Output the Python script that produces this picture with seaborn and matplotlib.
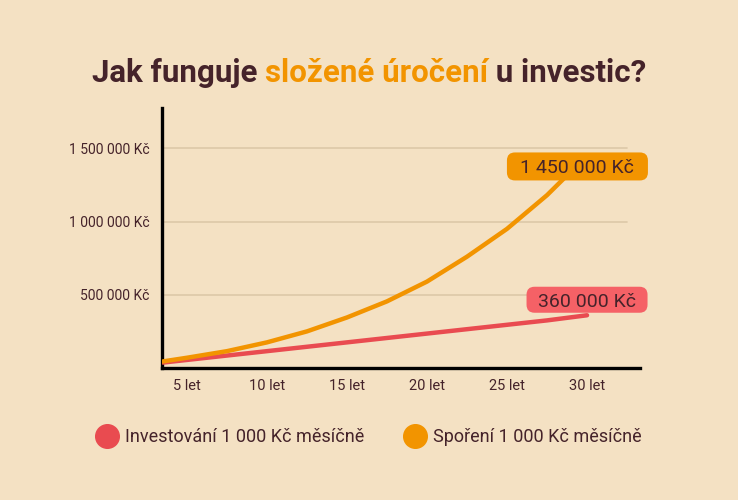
import matplotlib
matplotlib.use("Agg")
import matplotlib.pyplot as plt
from matplotlib.lines import Line2D
from matplotlib.patches import FancyBboxPatch
from matplotlib.transforms import IdentityTransform
from matplotlib.ticker import FuncFormatter
import seaborn as sns
import pandas as pd

# data (values in Kč)
years = [3.5, 5, 7.5, 10, 12.5, 15, 17.5, 20, 22.5, 25, 27.5, 30]
sporeni = [45000, 70000, 115000, 175000, 250000, 345000, 455000, 590000, 760000, 950000, 1180000, 1450000]
investovani = [37000, 55000, 85000, 115000, 145000, 175000, 205000, 235000, 265000, 295000, 325000, 360000]
series_names = ["Investování 1 000 Kč měsíčně", "Spoření 1 000 Kč měsíčně"]
x_ticks = [5, 10, 15, 20, 25, 30]
x_labels = ["5 let", "10 let", "15 let", "20 let", "25 let", "30 let"]
y_ticks = [500000, 1000000, 1500000]

BG = "#F4E1C3"
DARK = "#45232A"
RED = "#E94B50"
RED_BOX = "#F56166"
ORANGE = "#F29400"
GRID = "#DCC8A8"

df = pd.concat([
    pd.DataFrame({"rok": years, "castka": investovani, "serie": series_names[0]}),
    pd.DataFrame({"rok": years, "castka": sporeni, "serie": series_names[1]}),
])
palette = {series_names[0]: RED, series_names[1]: ORANGE}

sns.set_style("white")
plt.rcParams["font.family"] = ["Roboto", "DejaVu Sans"]

fig = plt.figure(figsize=(7.38, 5), dpi=100, facecolor=BG)
ax = fig.add_axes([0.2195, 0.264, 0.6475, 0.52])
ax.set_facecolor(BG)

sns.lineplot(data=df, x="rok", y="castka", hue="serie", palette=palette,
             linewidth=3.2, ax=ax, legend=False, zorder=3)

ax.set_xlim(3.44, 33.3)
ax.set_ylim(0, 1775000)

# gridlines stop a little short of the axis end
for v in y_ticks:
    ax.axhline(v, xmin=0, xmax=0.973, color=GRID, lw=1.2, zorder=1)

ax.set_xticks(x_ticks)
ax.set_xticklabels(x_labels)
ax.set_yticks(y_ticks)
ax.yaxis.set_major_formatter(FuncFormatter(lambda v, p: f"{v:,.0f}".replace(",", " ") + " Kč"))
ax.tick_params(axis="both", length=0, colors=DARK)
ax.tick_params(axis="x", labelsize=10.5, pad=8)
ax.tick_params(axis="y", labelsize=10, pad=9)
ax.set_xlabel("")
ax.set_ylabel("")

for s in ["top", "right"]:
    ax.spines[s].set_visible(False)
for s in ["left", "bottom"]:
    ax.spines[s].set_color("black")
    ax.spines[s].set_linewidth(2.4)


def fmt(v):
    return f"{v:,.0f}".replace(",", " ") + " Kč"


# end-value labels: rounded box sized in pixels, centred on a data point
def value_label(xd, yd, w, h, text, color):
    px, py = ax.transData.transform((xd, yd))
    box = FancyBboxPatch((px - w / 2, py - h / 2), w, h,
                         boxstyle="round,pad=0,rounding_size=8",
                         transform=IdentityTransform(), fc=color, ec="none",
                         zorder=5, clip_on=False)
    ax.add_patch(box)
    ax.text(xd, yd, text, ha="center", va="center_baseline", fontsize=14,
            color=DARK, zorder=6)


value_label(29.4, 1376000, 141, 28, fmt(sporeni[-1]), ORANGE)
value_label(30.0, 466000, 121, 26, fmt(investovani[-1]), RED_BOX)

# title with the highlighted part in orange
parts = [("Jak funguje ", DARK), ("složené úročení", ORANGE), (" u investic?", DARK)]
texts = [fig.text(0, 0.853, t, color=c, fontsize=22.5, fontweight="bold", va="center", ha="left")
         for t, c in parts]
fig.canvas.draw()
r = fig.canvas.get_renderer()
widths = [t.get_window_extent(r).width for t in texts]
x = (738 - sum(widths)) / 2 / 738
for t, w in zip(texts, widths):
    t.set_x(x)
    x += w / 738

handles = [Line2D([], [], marker="o", linestyle="", markersize=17, color=palette[n]) for n in series_names]
fig.legend(handles, series_names, loc="center", bbox_to_anchor=(0.5, 0.126), ncol=2,
           frameon=False, fontsize=13, labelcolor=DARK, handletextpad=0.4,
           columnspacing=2.2, handlelength=1.2)

fig.savefig("out.png", dpi=100, facecolor=BG)
